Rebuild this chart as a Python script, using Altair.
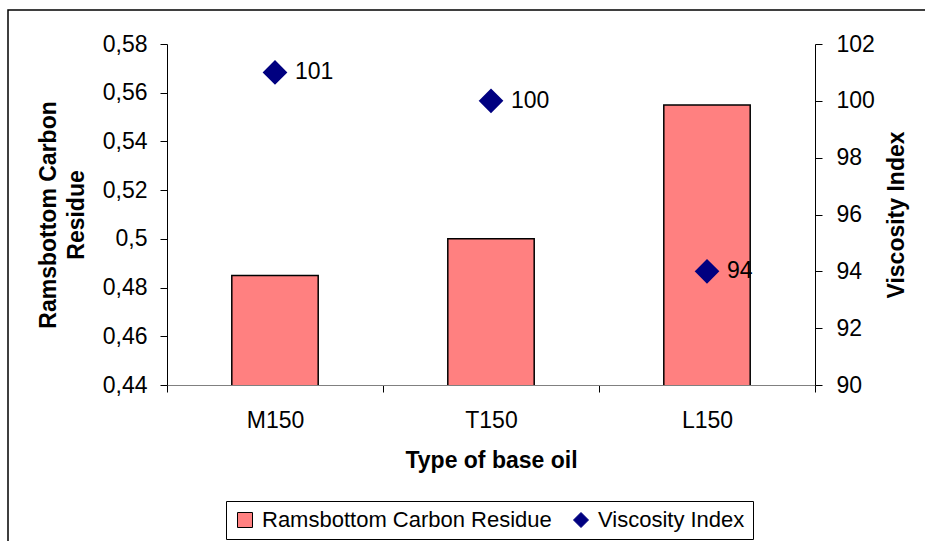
import altair as alt
import pandas as pd

# Data
oils = ["M150", "T150", "L150"]
carbon_residue = [0.485, 0.500, 0.555]
viscosity_index = [101, 100, 94]
series_names = ["Ramsbottom Carbon Residue", "Viscosity Index"]
residue_ticks = [0.44, 0.46, 0.48, 0.50, 0.52, 0.54, 0.56, 0.58]
vi_ticks = [90, 92, 94, 96, 98, 100, 102]

FONT = "Liberation Sans"
FS = 23

bars_df = pd.DataFrame({"oil": oils, "value": carbon_residue, "series": series_names[0]})
vi_df = pd.DataFrame({"oil": oils, "value": viscosity_index, "series": series_names[1]})
frame_df = pd.DataFrame({"k": [0]})

fill_scale = alt.Scale(domain=series_names, range=["#FF8080", "#000080"])
stroke_scale = alt.Scale(domain=series_names, range=["#000000", "#000080"])
shape_scale = alt.Scale(domain=series_names, range=["square", "diamond"])

legend = alt.Legend(
    title=None, orient="none", legendX=59, legendY=457, direction="horizontal",
    strokeColor="black", padding=8, labelFont=FONT, labelFontSize=22,
    labelLimit=0, symbolSize=225, symbolStrokeWidth=1, columnPadding=18,
    labelOffset=6, fillColor="white",
)

x_enc = alt.X(
    "oil:N", sort=oils,
    scale=alt.Scale(paddingInner=0, paddingOuter=0),
    axis=alt.Axis(
        title="Type of base oil", tickBand="extent", labelAngle=0,
        domainColor="#808080", tickColor="black", tickSize=7,
        labelPadding=17, titlePadding=17,
    ),
)

# Bars start at the bottom of the 0.44 axis; clip keeps them inside the plot
bars = alt.Chart(bars_df).mark_bar(
    width=alt.RelativeBandSize(0.4), strokeWidth=1.5, clip=True
).encode(
    x=x_enc,
    y=alt.Y(
        "value:Q",
        scale=alt.Scale(domain=[0.44, 0.58], nice=False, zero=False),
        axis=alt.Axis(
            title=["Ramsbottom Carbon", "Residue"], values=residue_ticks,
            labelExpr="replace(format(datum.value, '.2~f'), '.', ',')",
            domainColor="black", tickColor="black", tickSize=7, labelPadding=13,
            titlePadding=14, titleLineHeight=28,
        ),
    ),
    fill=alt.Fill("series:N", scale=fill_scale, legend=legend),
    stroke=alt.Stroke("series:N", scale=stroke_scale, legend=legend),
)

vi_base = alt.Chart(vi_df).encode(
    x=x_enc,
    y=alt.Y(
        "value:Q",
        scale=alt.Scale(domain=[90, 102], nice=False, zero=False),
        axis=alt.Axis(
            orient="right", title="Viscosity Index", values=vi_ticks, titleAngle=270,
            domainColor="black", tickColor="black", tickSize=7, labelPadding=14,
            titlePadding=34,
        ),
    ),
)

points = vi_base.mark_point(filled=True, size=480, opacity=1).encode(
    fill=alt.Fill("series:N", scale=fill_scale, legend=legend),
    stroke=alt.Stroke("series:N", scale=stroke_scale, legend=legend),
    shape=alt.Shape("series:N", scale=shape_scale, legend=legend),
)

labels = vi_base.mark_text(align="left", baseline="middle", dx=20, font=FONT, fontSize=FS, color="black").encode(
    text=alt.Text("value:Q")
)

frame = alt.Chart(frame_df).mark_rect(fill="transparent", stroke="black", strokeWidth=1.5).encode(
    x=alt.value(-159), x2=alt.value(780), y=alt.value(-34), y2=alt.value(520)
)

chart = alt.layer(frame, bars, alt.layer(points, labels)).resolve_scale(
    y="independent"
).properties(
    width=648, height=341,
    autosize=alt.AutoSizeParams(type="none"),
    padding={"left": 167, "top": 44, "right": 110, "bottom": 156},
    background="white",
).configure_view(
    strokeWidth=0
).configure_axis(
    labelFont=FONT, labelFontSize=FS, labelColor="black",
    titleFont=FONT, titleFontSize=23, titleFontWeight="bold", titleColor="black",
    grid=False, domainWidth=1, tickWidth=1,
)

chart.save("out.html", embed_options={"renderer": "svg", "actions": False})
